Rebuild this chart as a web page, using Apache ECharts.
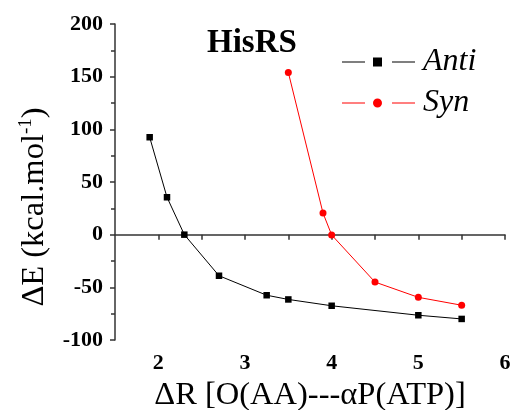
<!DOCTYPE html>
<html>
<head>
<meta charset="utf-8">
<script src="https://cdn.jsdelivr.net/npm/echarts@6/dist/echarts.min.js"></script>
<style>html,body{margin:0;padding:0;background:#fff}#c{width:516px;height:410px}</style>
</head>
<body>
<div id="c"></div>
<script>
const antiX = [1.9, 2.1, 2.3, 2.7, 3.25, 3.5, 4.0, 5.0, 5.5];
const antiY = [92.5, 35.5, 0, -39, -57.5, -61.5, -67.5, -76.5, -80];
const synX = [3.5, 3.9, 4.0, 4.5, 5.0, 5.5];
const synY = [154, 20.5, -0.3, -45, -59.5, -67];
const xTickLabels = [2, 3, 4, 5, 6];
const xTickMarks = [2, 2.5, 3, 3.5, 4, 4.5, 5, 5.5, 6];
const chartTitle = 'HisRS';
const seriesNames = ['Anti', 'Syn'];

const FONT = 'Liberation Serif';
const pair = (xs, ys) => xs.map((x, i) => [x, ys[i]]);

const chart = echarts.init(document.getElementById('c'), null, {renderer: 'canvas'});
chart.setOption({
  animation: false,
  backgroundColor: '#fff',
  textStyle: {fontFamily: FONT},
  title: {
    text: chartTitle, left: 207, top: 27, padding: 0,
    textStyle: {fontFamily: FONT, fontWeight: 'bold', fontSize: 33, color: '#000'}
  },
  legend: {
    orient: 'vertical', left: 342, top: 46, padding: 0, itemGap: 9,
    itemWidth: 73, itemHeight: 9,
    textStyle: {fontFamily: FONT, fontStyle: 'italic', fontSize: 32, color: '#000', padding: [0, 0, 0, 3]},
    data: [
      {name: seriesNames[0], icon: 'path://M0,4H23V5H0Z M31,0H40V9H31Z M50,4H73V5H50Z'},
      {name: seriesNames[1], icon: 'path://M0,4H23V5H0Z M35.5,0A4.5,4.5 0 1 1 35.5,9A4.5,4.5 0 1 1 35.5,0Z M50,4H73V5H50Z'}
    ]
  },
  grid: {left: 115, right: 11, top: 24, bottom: 70, containLabel: false, outerBoundsMode: 'none'},
  xAxis: {
    type: 'value', min: 1.5, max: 6,
    name: 'ΔR [O(AA)---αP(ATP)]', nameLocation: 'middle', nameGap: 37,
    nameTextStyle: {fontFamily: FONT, fontSize: 32.5, color: '#000'},
    axisLine: {show: true, lineStyle: {color: '#333', width: 1.5}},
    axisTick: {show: true, inside: false, length: 5, customValues: xTickMarks, lineStyle: {color: '#333', width: 1.5}},
    axisLabel: {customValues: xTickLabels, margin: 12, fontFamily: FONT, fontWeight: 'bold', fontSize: 22, color: '#000'},
    splitLine: {show: false}
  },
  yAxis: {
    type: 'value', min: -100, max: 200, interval: 50,
    name: 'ΔE (kcal.mol{sup|-1})', nameLocation: 'middle', nameGap: 64, nameRotate: 90,
    nameTextStyle: {fontFamily: FONT, fontSize: 32.5, color: '#000', padding: [0, 50, 0, 0],
      rich: {sup: {fontFamily: FONT, fontSize: 19, color: '#000', verticalAlign: 'top', padding: [0, 0, 15, 0]}}},
    axisLine: {show: true, lineStyle: {color: '#333', width: 1.5}},
    axisTick: {show: true, inside: false, length: 5, lineStyle: {color: '#333', width: 1.5}},
    minorTick: {show: true, splitNumber: 2, length: 4, lineStyle: {color: '#333', width: 1.5}},
    axisLabel: {margin: 12, fontFamily: FONT, fontWeight: 'bold', fontSize: 22, color: '#000'},
    splitLine: {show: false}
  },
  series: [
    {
      name: seriesNames[0], type: 'line', data: pair(antiX, antiY),
      symbol: 'rect', symbolSize: 6.5,
      itemStyle: {color: '#000'}, lineStyle: {color: '#000', width: 1}
    },
    {
      name: seriesNames[1], type: 'line', data: pair(synX, synY),
      symbol: 'circle', symbolSize: 7,
      itemStyle: {color: '#ff0000'}, lineStyle: {color: '#ff0000', width: 1}
    }
  ]
});
</script>
</body>
</html>
